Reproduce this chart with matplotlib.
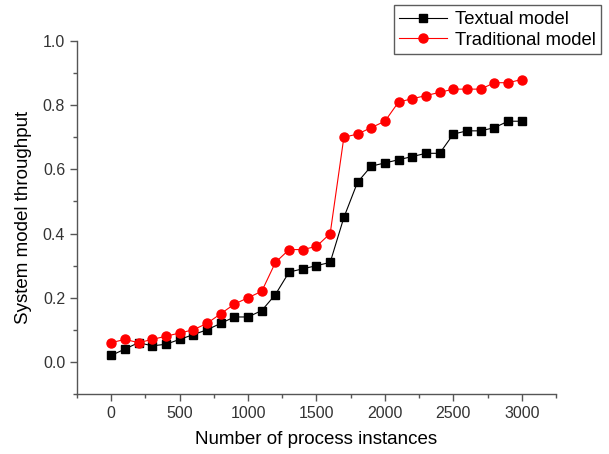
import numpy as np
import matplotlib.pyplot as plt
from matplotlib.ticker import MultipleLocator

plt.rcParams["font.family"] = ["Liberation Sans", "DejaVu Sans"]

# Datos
instances = list(range(0, 3001, 100))
textual = [0.02, 0.04, 0.06, 0.05, 0.055, 0.07, 0.085, 0.10, 0.12, 0.14,
           0.14, 0.16, 0.21, 0.28, 0.29, 0.30, 0.31, 0.45, 0.56, 0.61,
           0.62, 0.63, 0.64, 0.65, 0.65, 0.71, 0.72, 0.72, 0.73, 0.75, 0.75]
traditional = [0.06, 0.07, 0.06, 0.07, 0.08, 0.09, 0.10, 0.12, 0.15, 0.18,
               0.20, 0.22, 0.31, 0.35, 0.35, 0.36, 0.40, 0.70, 0.71, 0.73,
               0.75, 0.81, 0.82, 0.83, 0.84, 0.85, 0.85, 0.85, 0.87, 0.87, 0.88]

axis_color = "#555555"

fig = plt.figure(figsize=(6.09, 4.54), dpi=100)
ax = fig.add_axes([0.1264, 0.1322, 0.7866, 0.7775])

ax.plot(instances, textual, color="black", lw=0.8, marker="s", ms=6,
        label="Textual model")
ax.plot(instances, traditional, color="red", lw=0.8, marker="o", ms=6.5,
        label="Traditional model")

ax.set_xlim(-250, 3250)
ax.set_ylim(-0.1, 1.0)
ax.xaxis.set_major_locator(MultipleLocator(500))
ax.xaxis.set_minor_locator(MultipleLocator(250))
ax.yaxis.set_major_locator(MultipleLocator(0.2))
ax.yaxis.set_minor_locator(MultipleLocator(0.1))
ax.yaxis.set_major_formatter(plt.FuncFormatter(lambda v, p: f"{v:.1f}"))

for side in ["top", "right"]:
    ax.spines[side].set_visible(False)
for side in ["left", "bottom"]:
    ax.spines[side].set_color(axis_color)
    ax.spines[side].set_linewidth(1.0)

ax.tick_params(which="major", direction="out", length=5, width=1,
               color=axis_color, labelsize=11.5, labelcolor="#333333")
ax.tick_params(which="minor", direction="out", length=3, width=1,
               color=axis_color)

ax.set_xlabel("Number of process instances", fontsize=13.5, labelpad=7)
ax.set_ylabel("System model throughput", fontsize=13.5, labelpad=8)

fig.legend(loc="upper right", bbox_to_anchor=(0.987, 0.988), fontsize=13.3,
           frameon=True, fancybox=False, edgecolor="#333333",
           handlelength=2.6, borderpad=0.3, labelspacing=0.2,
           handletextpad=0.4, borderaxespad=0)

fig.savefig("out.png", dpi=100)
